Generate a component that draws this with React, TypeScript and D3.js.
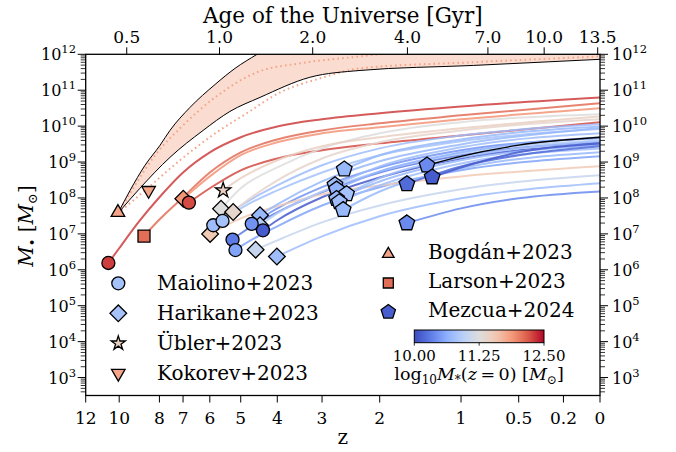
import React from "react";
import * as d3 from "d3";

const W = 676, H = 452;
const PL = 85.7, PR = 600, PT = 54.3, PB = 395.5;
const FONT = "'DejaVu Serif', serif";

// ---------- axis ticks ----------
const zTickValues = [12, 10, 8, 7, 6, 5, 4, 3, 2, 1, 0.5, 0.2, 0];
const zTickLabels = ["12", "10", "8", "7", "6", "5", "4", "3", "2", "1", "0.5", "0.2", "0"];
const ageTickValues = [0.5, 1.0, 2.0, 4.0, 7.0, 10.0, 13.5];
const ageTickLabels = ["0.5", "1.0", "2.0", "4.0", "7.0", "10.0", "13.5"];
const massDecades = [3, 4, 5, 6, 7, 8, 9, 10, 11, 12];
const cbarTicks = [10, 11.25, 12.5];
const cbarTickLabels = ["10.00", "11.25", "12.50"];

// ---------- Bogdán+2023 band (z, log M) ----------
const bogdanUpper = [[10.07, 7.57], [9.42, 8.21], [8.67, 8.91], [7.97, 9.47], [7.54, 9.88], [6.73, 10.52], [5.82, 11.16], [5.17, 11.61], [4.53, 12.0], [3.69, 12.53], [2.48, 13.09], [1, 13.5], [0, 13.7]];
const bogdanLower = [[10.07, 7.57], [8.92, 8.27], [7.54, 9.13], [6.24, 9.88], [5.33, 10.41], [4.45, 10.8], [3.25, 11.36], [2.31, 11.55], [0.88, 11.69], [0, 11.86]];
const bogdanDotHigh = [[10.07, 7.57], [9.17, 8.35], [8.2, 9.19], [7.12, 9.94], [5.82, 10.8], [4.53, 11.5], [3.46, 11.75], [2.31, 11.94], [1.45, 12.11], [0, 12.25]];
const bogdanDotLow = [[10.07, 7.57], [8.67, 8.21], [7.12, 9.05], [5.76, 9.83], [4.87, 10.33], [3.93, 10.94], [3.04, 11.33], [2.31, 11.61], [0.88, 11.78], [0, 11.94]];
const bogdanColorValue = 11.8;

// ---------- growth tracks: v = log10 M*(z=0), pts = (z, log M_BH) ----------
const maiolinoTracks = [
  { v: 12.3, pts: [[10.61, 6.19], [10, 6.6], [9, 7.32], [8, 8.02], [7, 8.71], [6, 9.27], [5, 9.69], [4, 9.99], [3, 10.19], [2, 10.36], [1, 10.55], [0, 10.8]] },
  { v: 12.25, pts: [[6.77, 7.87], [6, 8.27], [5, 8.77], [4, 9.1], [3, 9.33], [2, 9.52], [1, 9.74], [0, 10.11]] },
  { v: 10.75, pts: [[5.88, 7.24], [5, 7.79], [4, 8.35], [3, 8.91], [2, 9.38], [1, 9.74], [0, 10.05]] },
  { v: 10.8, pts: [[5.57, 7.36], [5, 7.71], [4, 8.21], [3, 8.71], [2, 9.19], [1, 9.58], [0, 9.92]] },
  { v: 10.3, pts: [[5.25, 6.84], [5, 7.01], [4, 7.6], [3, 8.16], [2, 8.71], [1, 9.19], [0, 9.55]] },
  { v: 10.55, pts: [[5.16, 6.55], [5, 6.65], [4, 7.21], [3, 7.79], [2, 8.3], [1, 8.77], [0, 9.16]] },
  { v: 10.45, pts: [[4.68, 7.28], [4, 7.71], [3, 8.3], [2, 8.85], [1, 9.33], [0, 9.66]] },
  { v: 10.1, pts: [[4.37, 7.1], [4, 7.38], [3, 8.02], [2, 8.57], [1, 9.1], [0, 9.49]] },
];
const harikaneTracks = [
  { v: 11.9, pts: [[6.99, 7.98], [6, 8.6], [5, 9.19], [4, 9.55], [3, 9.8], [2, 9.97], [1, 10.19], [0, 10.5]] },
  { v: 11.55, pts: [[5.99, 7.0], [5, 7.43], [4, 7.77], [3, 8.1], [2, 8.35], [1, 8.6], [0, 8.88]] },
  { v: 11.25, pts: [[5.62, 7.7], [5, 8.27], [4, 8.85], [3, 9.38], [2, 9.8], [1, 10.11], [0, 10.33]] },
  { v: 11.37, pts: [[5.23, 7.61], [5, 7.79], [4, 8.49], [3, 9.1], [2, 9.55], [1, 9.88], [0, 10.19]] },
  { v: 10.7, pts: [[4.45, 7.52], [4, 7.82], [3, 8.46], [2, 9.02], [1, 9.49], [0, 9.95]] },
  { v: 10.9, pts: [[4.45, 7.24], [4, 7.57], [3, 8.18], [2, 8.74], [1, 9.24], [0, 9.6]] },
  { v: 11.05, pts: [[4.57, 6.56], [4, 6.82], [3, 7.32], [2, 7.79], [1, 8.24], [0, 8.63]] },
  { v: 10.75, pts: [[4.01, 6.37], [3, 6.93], [2, 7.49], [1, 7.99], [0, 8.41]] },
];
const ueblerTracks = [
  { v: 11.45, pts: [[5.55, 8.21], [5, 8.55], [4, 9.05], [3, 9.44], [2, 9.69], [1, 9.94], [0, 10.27]] },
];
const larsonTracks = [
  { v: 12.1, pts: [[8.72, 6.94], [8, 7.4], [7, 8.02], [6, 8.71], [5, 9.27], [4, 9.63], [3, 9.88], [2, 10.08], [1, 10.3], [0, 10.64]] },
];
const mezcuaTracks = [
  { v: 10.7, pts: [[2.58, 8.8], [2, 9.19], [1, 9.63], [0, 9.99]] },
  { v: 10.75, pts: [[2.75, 8.36], [2, 8.88], [1, 9.41], [0, 9.8]] },
  { v: 10.65, pts: [[2.72, 8.24], [2, 8.74], [1, 9.27], [0, 9.69]] },
  { v: 10.8, pts: [[2.54, 8.11], [2, 8.55], [1, 9.13], [0, 9.58]] },
  { v: 10.7, pts: [[2.72, 7.98], [2, 8.46], [1, 9.05], [0, 9.47]] },
  { v: 10.75, pts: [[2.67, 7.89], [2, 8.35], [1, 8.96], [0, 9.38]] },
  { v: 10.7, pts: [[2.6, 7.67], [2, 8.18], [1, 8.82], [0, 9.27]] },
  { v: 10.2, pts: [[1.62, 8.39], [1, 8.88], [0.5, 9.19], [0, 9.44]] },
  { v: 10.4, pts: [[1.37, 8.91], [1, 9.16], [0.5, 9.47], [0, 9.69]], black: true },
  { v: 10.1, pts: [[1.31, 8.58], [1, 8.85], [0.5, 9.27], [0, 9.52]] },
  { v: 10.4, pts: [[1.62, 7.3], [1, 7.71], [0.5, 7.99], [0, 8.18]] },
];
const kokorevPoints = [{ z: 8.5, logM: 8.21, v: 11.8 }];
const bogdanPoints = [{ z: 10.07, logM: 7.57, v: 11.8 }];

const leftLegend = ["Maiolino+2023", "Harikane+2023", "Übler+2023", "Kokorev+2023"];
const rightLegend = ["Bogdán+2023", "Larson+2023", "Mezcua+2024"];

// ---------- colour map (coolwarm) ----------
const cwColors = ["#3b4cc0", "#5d7ce6", "#8db0fe", "#b9d0f7", "#dddddd", "#f2c9b4", "#f49a7b", "#dc5d4a", "#b40426"];
const cw = d3.scaleLinear<string>().domain(d3.range(9).map((i) => i / 8)).range(cwColors).interpolate(d3.interpolateRgb).clamp(true);
const cNorm = d3.scaleLinear().domain([10, 12.5]).range([0, 1]);
const colorOf = (v: number) => cw(cNorm(v));

// ---------- cosmology for the top axis ----------
const H0 = 69, Om = 0.3, OL = 0.7;
const tHubble = 977.8 / H0;
const pref = (2 / (3 * Math.sqrt(OL))) * tHubble;
const ageToZ = (t: number) => Math.pow(Math.sinh(t / pref) / Math.sqrt(OL / Om), -2 / 3) - 1;

// ---------- scales ----------
const xLog = d3.scaleLinear().domain([Math.log10(13), 0]).range([PL, PR]);
const xz = (z: number) => xLog(Math.log10(1 + z));
const yS = d3.scaleLog().domain([Math.pow(10, 2.5), 1e12]).range([PB, PT]);
const yl = (lm: number) => yS(Math.pow(10, lm));

const line = d3.line<number[]>().x((d) => xz(d[0])).y((d) => yl(d[1])).curve(d3.curveMonotoneX);

const symbolPentagon = {
  draw(ctx: any, size: number) {
    const r = Math.sqrt(size / (2.5 * Math.sin((2 * Math.PI) / 5)));
    for (let i = 0; i < 5; i++) {
      const a = -Math.PI / 2 + (i * 2 * Math.PI) / 5;
      const px = r * Math.cos(a), py = r * Math.sin(a);
      if (i === 0) ctx.moveTo(px, py); else ctx.lineTo(px, py);
    }
    ctx.closePath();
  },
};
const sym = (type: any, size: number) => d3.symbol().type(type).size(size)() as string;
const circleP = sym(d3.symbolCircle, 133);
const diamondP = sym(d3.symbolSquare, 139);
const starP = sym(d3.symbolStar, 72);
const triP = sym(d3.symbolTriangle, 80);
const squareP = sym(d3.symbolSquare, 144);
const pentP = sym(symbolPentagon, 160);

const Marker = ({ x, y, d, fill, rot = 0 }: any) => (
  <path d={d} transform={`translate(${x},${y}) rotate(${rot})`} fill={fill} stroke="#000" strokeWidth={1.3} strokeLinejoin="miter" />
);

function Pow10({ x, y, e, anchor }: any) {
  return (
    <text x={x} y={y} textAnchor={anchor} fontFamily={FONT} fontSize={16}>
      10<tspan dy={-7} fontSize={11.5}>{e}</tspan>
    </text>
  );
}

export default function App() {
  const minorTicks: number[] = [];
  for (let d = 2; d <= 11; d++) for (let k = 2; k <= 9; k++) {
    const v = k * Math.pow(10, d);
    if (v >= Math.pow(10, 2.5) && v <= 1e12) minorTicks.push(v);
  }
  const allTracks = [...larsonTracks, ...maiolinoTracks, ...harikaneTracks, ...ueblerTracks, ...mezcuaTracks];

  // band fill via two clip regions
  const upperPath = line(bogdanUpper as any)!;
  const lowerPath = line(bogdanLower as any)!;
  const x0 = xz(bogdanUpper[0][0]);
  const belowUpper = `${upperPath}L${PR + 50},${PB + 100}L${x0},${PB + 100}Z`;
  const aboveLower = `${lowerPath}L${PR + 50},${-200}L${x0},${-200}Z`;

  const cbX = d3.scaleLinear().domain([10, 12.5]).range([414.3, 544]);
  const stops = d3.range(0, 1.0001, 0.05);

  return (
    <svg width={W} height={H} style={{ position: "absolute", left: 0, top: 0, background: "#fff" }} fontFamily={FONT}>
      <defs>
        <clipPath id="plot"><rect x={PL} y={PT} width={PR - PL} height={PB - PT} /></clipPath>
        <clipPath id="bu"><path d={belowUpper} /></clipPath>
        <linearGradient id="cbar" x1="0" x2="1" y1="0" y2="0">
          {stops.map((t) => <stop key={t} offset={t} stopColor={cw(t)} />)}
        </linearGradient>
      </defs>
      <rect x={0} y={0} width={W} height={H} fill="#fff" />

      <g clipPath="url(#plot)">
        <g clipPath="url(#bu)">
          <path d={aboveLower} fill="#fbdcd0" />
        </g>
        <path d={line(bogdanDotHigh as any)!} fill="none" stroke={colorOf(bogdanColorValue)} strokeWidth={2} strokeDasharray="1.6 3.2" />
        <path d={line(bogdanDotLow as any)!} fill="none" stroke={colorOf(bogdanColorValue)} strokeWidth={2} strokeDasharray="1.6 3.2" />
        <path d={upperPath} fill="none" stroke="#000" strokeWidth={1} />
        <path d={lowerPath} fill="none" stroke="#000" strokeWidth={1} />
        {allTracks.map((t: any, i) => (
          <path key={i} d={line(t.pts)!} fill="none" stroke={t.black ? "#000" : colorOf(t.v)} strokeWidth={t.black ? 1.3 : 2} strokeOpacity={t.black ? 1 : 0.85} />
        ))}
      </g>

      {/* markers */}
      {larsonTracks.map((t, i) => <Marker key={"l" + i} x={xz(t.pts[0][0])} y={yl(t.pts[0][1])} d={squareP} fill={colorOf(t.v)} />)}
      {kokorevPoints.map((p, i) => <Marker key={"k" + i} x={xz(p.z)} y={yl(p.logM)} d={triP} rot={180} fill={colorOf(p.v)} />)}
      {harikaneTracks.map((t, i) => <Marker key={"h" + i} x={xz(t.pts[0][0])} y={yl(t.pts[0][1])} d={diamondP} rot={45} fill={colorOf(t.v)} />)}
      {maiolinoTracks.map((t, i) => <Marker key={"m" + i} x={xz(t.pts[0][0])} y={yl(t.pts[0][1])} d={circleP} fill={colorOf(t.v)} />)}
      {ueblerTracks.map((t, i) => <Marker key={"u" + i} x={xz(t.pts[0][0])} y={yl(t.pts[0][1])} d={starP} fill={colorOf(t.v)} />)}
      {mezcuaTracks.map((t, i) => <Marker key={"p" + i} x={xz(t.pts[0][0])} y={yl(t.pts[0][1])} d={pentP} fill={colorOf(t.v)} />)}
      {bogdanPoints.map((p, i) => <Marker key={"b" + i} x={xz(p.z)} y={yl(p.logM) - 1} d={triP} fill={colorOf(p.v)} />)}

      {/* frame */}
      <rect x={PL} y={PT} width={PR - PL} height={PB - PT} fill="none" stroke="#000" strokeWidth={1.3} />

      {/* bottom axis */}
      {zTickValues.map((z, i) => (
        <g key={"zt" + i}>
          <line x1={xz(z)} x2={xz(z)} y1={PB} y2={PB + 7} stroke="#000" strokeWidth={1} />
          <text x={xz(z)} y={PB + 28} textAnchor="middle" fontSize={17}>{zTickLabels[i]}</text>
        </g>
      ))}
      <text x={(PL + PR) / 2} y={444} textAnchor="middle" fontSize={20}>z</text>

      {/* top axis */}
      {ageTickValues.map((t, i) => {
        const xx = xz(ageToZ(t));
        return (
          <g key={"at" + i}>
            <line x1={xx} x2={xx} y1={PT} y2={PT - 7} stroke="#000" strokeWidth={1} />
            <text x={xx} y={PT - 11} textAnchor="middle" fontSize={17}>{ageTickLabels[i]}</text>
          </g>
        );
      })}
      <text x={(PL + PR) / 2} y={23} textAnchor="middle" fontSize={21.5}>Age of the Universe [Gyr]</text>

      {/* y axes */}
      {minorTicks.map((v, i) => (
        <g key={"mt" + i}>
          <line x1={PL} x2={PL - 5} y1={yS(v)} y2={yS(v)} stroke="#000" strokeWidth={0.8} />
          <line x1={PR} x2={PR + 5} y1={yS(v)} y2={yS(v)} stroke="#000" strokeWidth={0.8} />
        </g>
      ))}
      {massDecades.map((e) => (
        <g key={"md" + e}>
          <line x1={PL} x2={PL - 8} y1={yS(Math.pow(10, e))} y2={yS(Math.pow(10, e))} stroke="#000" strokeWidth={1} />
          <line x1={PR} x2={PR + 8} y1={yS(Math.pow(10, e))} y2={yS(Math.pow(10, e))} stroke="#000" strokeWidth={1} />
          <Pow10 x={76} y={yS(Math.pow(10, e)) + 6} e={e} anchor="end" />
          <Pow10 x={612} y={yS(Math.pow(10, e)) + 6} e={e} anchor="start" />
        </g>
      ))}
      <text transform="translate(33,226) rotate(-90)" textAnchor="middle" fontSize={20}>
        <tspan fontStyle="italic">M</tspan>
        <tspan dy={4} fontSize={13}>•</tspan>
        <tspan dy={-4}> [</tspan>
        <tspan fontStyle="italic">M</tspan>
        <tspan dy={4} fontSize={13}>⊙</tspan>
        <tspan dy={-4}>]</tspan>
      </text>

      {/* left legend */}
      {leftLegend.map((s, i) => {
        const yy = 283.3 + i * 30;
        const d = [circleP, diamondP, sym(d3.symbolStar, 62), triP][i];
        const rot = [0, 45, 0, 180][i];
        const fill = [colorOf(10.8), colorOf(10.8), colorOf(11.45), colorOf(11.8)][i];
        return (
          <g key={"ll" + i}>
            <Marker x={118.3} y={yy} d={d} rot={rot} fill={fill} />
            <text x={157} y={yy + 6.5} fontSize={20}>{s}</text>
          </g>
        );
      })}

      {/* right legend */}
      {rightLegend.map((s, i) => {
        const yy = 254 + i * 29;
        const d = [sym(d3.symbolTriangle, 58), sym(d3.symbolSquare, 100), sym(symbolPentagon, 135)][i];
        const fill = [colorOf(11.8), colorOf(12.1), colorOf(10.12)][i];
        return (
          <g key={"rl" + i}>
            <Marker x={388.3} y={yy} d={d} fill={fill} />
            <text x={428} y={yy + 4.5} fontSize={20}>{s}</text>
          </g>
        );
      })}

      {/* colour bar */}
      <rect x={cbX(10)} y={330} width={cbX(12.5) - cbX(10)} height={12.7} fill="url(#cbar)" stroke="#000" strokeWidth={1} />
      {cbarTicks.map((v, i) => (
        <g key={"cb" + i}>
          <line x1={cbX(v)} x2={cbX(v)} y1={342.7} y2={345.7} stroke="#000" strokeWidth={0.8} />
          <text x={cbX(v)} y={360.5} textAnchor="middle" fontSize={15}>{cbarTickLabels[i]}</text>
        </g>
      ))}
      <text x={479} y={380} textAnchor="middle" fontSize={17.5}>
        log<tspan dy={4} fontSize={12}>10</tspan>
        <tspan dy={-4} fontStyle="italic">M</tspan>
        <tspan dy={4} fontSize={12}>*</tspan>
        <tspan dy={-4}>(</tspan>
        <tspan fontStyle="italic">z</tspan>
        <tspan>{"\u2009=\u20090) ["}</tspan>
        <tspan fontStyle="italic">M</tspan>
        <tspan dy={4} fontSize={12}>⊙</tspan>
        <tspan dy={-4}>]</tspan>
      </text>
    </svg>
  );
}
